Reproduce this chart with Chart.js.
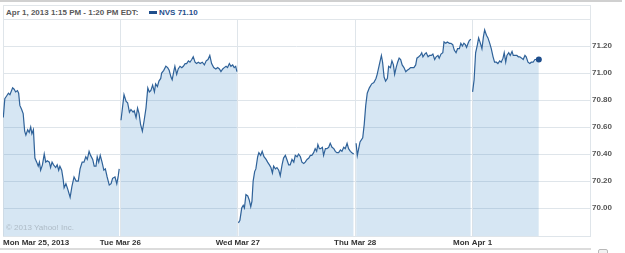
<!DOCTYPE html>
<html>
<head>
<meta charset="utf-8">
<script src="https://cdn.jsdelivr.net/npm/chart.js@4.4.1/dist/chart.umd.min.js"></script>
<style>
  html, body { margin: 0; padding: 0; background: #fff; }
  #wrap { position: relative; width: 625px; height: 253px; overflow: hidden; font-family: "Liberation Sans", Arial, sans-serif; }
  #c { position: absolute; left: 0; top: 0; }
  #topline { position: absolute; left: 0; top: 0; width: 622px; height: 2px; background: #d0d0d0; }
  #header { position: absolute; left: 3px; top: 5px; width: 588px; height: 15px; box-sizing: border-box; border: 1px solid #e1e6ea; background: #fff; }
  #htext { position: absolute; left: 2px; top: 1px; font-size: 8px; font-weight: bold; color: #595959; line-height: 12px; white-space: nowrap; }
  #swatch { position: absolute; left: 145px; top: 5px; width: 8px; height: 3px; background: #1f4e8c; }
  #legend { position: absolute; left: 155px; top: 1px; font-size: 8px; font-weight: bold; color: #1f4e8c; line-height: 12px; white-space: nowrap; }
  #copy { position: absolute; left: 6px; top: 223px; font-size: 8px; color: #aebbc6; white-space: nowrap; }
  #botline { position: absolute; left: 0; top: 248px; width: 591px; height: 2px; background: #dcdcdc; }
  #icon { position: absolute; left: 598px; top: 249px; width: 8px; height: 8px; border: 1px solid #b8b8b8; border-radius: 2px; background: #f2f2f2; }
</style>
</head>
<body>
<div id="wrap">
  <canvas id="c" width="625" height="253"></canvas>
  <div id="topline"></div>
  <div id="header">
    <span id="htext">Apr 1, 2013 1:15 PM - 1:20 PM EDT:</span>
    <span id="swatch"></span>
    <span id="legend"></span>
  </div>
  <div id="copy">© 2013 Yahoo! Inc.</div>
  <div id="botline"></div>
  <div id="icon"></div>
</div>
<script>
// ---- data ----
const symbol = 'NVS';
const dayLabels = ['Mon Mar 25, 2013', 'Tue Mar 26', 'Wed Mar 27', 'Thu Mar 28', 'Mon Apr 1'];
const minutesPerDay = 390; // 9:30 - 16:00
const yTicks = [70.00, 70.20, 70.40, 70.60, 70.80, 71.00, 71.20];
const yMin = 69.793, yMax = 71.40;

// minutes since open, prices
const day1Min = [1,6,12,18,23,32,37,42,48,52,56,62,67,72,76,82,87,92,96,101,106,112,117,121,125,131,137,142,147,154,158,163,168,175,180,185,189,195,200,203,209,215,223,229,236,243,250,256,263,269,275,280,286,291,298,303,309,313,318,323,329,335,340,346,353,359,364,372,378,383,386];
const day1Px  = [70.67,70.81,70.83,70.85,70.84,70.89,70.88,70.86,70.87,70.85,70.76,70.73,70.70,70.57,70.54,70.58,70.56,70.60,70.55,70.58,70.37,70.34,70.31,70.34,70.28,70.32,70.40,70.34,70.35,70.34,70.30,70.34,70.32,70.30,70.32,70.28,70.31,70.28,70.21,70.15,70.18,70.14,70.08,70.16,70.23,70.20,70.20,70.29,70.34,70.34,70.38,70.36,70.42,70.39,70.36,70.31,70.31,70.38,70.34,70.39,70.34,70.28,70.29,70.23,70.17,70.18,70.22,70.23,70.18,70.24,70.29];

const day2Min = [2,12,19,24,30,35,42,46,52,57,62,67,73,79,85,91,96,101,107,113,117,123,128,134,137,144,151,157,162,168,172,178,181,187,192,198,204,209,215,220,226,231,237,242,248,253,259,265,272,279,285,291,297,303,310,317,323,329,334,340,345,351,356,362,367,373,378,383,387];
const day2Px  = [70.65,70.84,70.79,70.78,70.71,70.73,70.71,70.72,70.67,70.74,70.70,70.62,70.57,70.65,70.74,70.89,70.86,70.87,70.91,70.86,70.92,70.90,70.94,70.96,71.00,71.02,71.05,71.04,71.02,70.97,70.95,71.02,71.05,70.99,71.03,71.05,71.04,71.05,71.07,71.07,71.09,71.08,71.10,71.12,71.08,71.07,71.08,71.07,71.08,71.06,71.09,71.10,71.13,71.07,71.04,71.03,71.04,71.03,71.01,71.03,71.04,71.05,71.04,71.07,71.05,71.06,71.04,71.05,71.01];

const day3Min = [2,7,13,18,22,27,33,38,43,47,51,56,60,66,70,76,81,87,94,99,105,110,115,119,125,130,136,141,147,152,158,163,169,174,180,186,191,197,202,208,213,219,224,230,236,241,246,252,257,262,266,271,275,281,285,291,296,302,307,313,319,324,329,335,341,346,352,357,363,368,374,379,385];
const day3Px  = [69.89,69.91,70.00,70.02,70.00,70.10,70.09,70.06,70.01,70.05,70.20,70.27,70.29,70.38,70.41,70.39,70.42,70.38,70.36,70.34,70.32,70.30,70.26,70.31,70.29,70.30,70.28,70.24,70.32,70.37,70.39,70.36,70.32,70.32,70.36,70.34,70.39,70.38,70.40,70.38,70.34,70.33,70.34,70.36,70.37,70.39,70.39,70.41,70.44,70.42,70.47,70.44,70.44,70.45,70.39,70.44,70.44,70.45,70.48,70.45,70.44,70.42,70.41,70.41,70.43,70.42,70.45,70.44,70.48,70.44,70.42,70.41,70.40];

const day4Min = [3,7,16,25,30,35,40,47,55,62,69,73,80,87,91,96,101,107,111,117,122,127,131,136,141,146,151,156,162,168,173,179,184,190,195,201,205,211,216,221,225,231,236,242,247,253,258,264,269,275,279,285,291,295,301,306,313,318,324,329,335,340,346,351,356,361,366,370,375,379,384];
const day4Px  = [70.48,70.39,70.49,70.52,70.62,70.76,70.85,70.89,70.92,70.93,70.96,70.99,71.06,71.13,71.08,70.97,70.94,70.96,71.05,71.04,71.09,71.06,70.99,71.04,71.08,71.11,71.10,71.06,71.04,71.01,71.02,71.03,71.04,71.04,71.04,71.06,71.11,71.12,71.13,71.15,71.12,71.14,71.15,71.12,71.13,71.13,71.14,71.10,71.12,71.13,71.11,71.14,71.15,71.23,71.22,71.23,71.22,71.22,71.21,71.17,71.15,71.18,71.18,71.22,71.20,71.22,71.21,71.19,71.22,71.24,71.25];

const day5Min = [0,5,10,16,20,26,31,36,40,46,51,57,62,68,73,79,84,90,95,101,105,110,114,120,125,131,135,141,147,152,157,163,168,174,178,184,190,195,201,207,212,220];
const day5Px  = [70.86,70.95,71.15,71.21,71.26,71.22,71.18,71.27,71.32,71.28,71.26,71.22,71.18,71.12,71.08,71.08,71.07,71.09,71.08,71.11,71.15,71.08,71.13,71.15,71.13,71.16,71.13,71.13,71.13,71.12,71.12,71.11,71.10,71.13,71.12,71.08,71.07,71.08,71.08,71.10,71.10,71.10];

const days = [[day1Min, day1Px], [day2Min, day2Px], [day3Min, day3Px], [day4Min, day4Px], [day5Min, day5Px]];

// ---- header legend text ----
const lastPrice = day5Px[day5Px.length - 1];
document.getElementById('legend').textContent = symbol + ' ' + lastPrice.toFixed(2);

// ---- chart ----
const lineColor = '#2f6299';
const datasets = days.map(([mins, px], d) => ({
  data: mins.map((m, i) => ({ x: d * minutesPerDay + m, y: px[i] })),
  borderColor: lineColor,
  borderWidth: 1.2,
  backgroundColor: 'rgba(70,140,200,0.22)',
  fill: 'start',
  tension: 0,
  pointRadius: (ctx) => (d === days.length - 1 && ctx.dataIndex === mins.length - 1) ? 3 : 0,
  pointBackgroundColor: '#1f4e8c',
  pointBorderColor: '#1f4e8c',
  pointBorderWidth: 0,
  pointHoverRadius: 0
}));

const gridColor = '#dfe5ea';
new Chart(document.getElementById('c'), {
  type: 'line',
  data: { datasets },
  options: {
    responsive: false,
    animation: false,
    devicePixelRatio: 1,
    layout: { padding: { left: 3, top: 19, right: 0, bottom: 0 } },
    plugins: { legend: { display: false }, tooltip: { enabled: false }, title: { display: false } },
    scales: {
      x: {
        type: 'linear',
        min: 0,
        max: minutesPerDay * dayLabels.length,
        afterBuildTicks: (s) => { s.ticks = dayLabels.map((_, i) => ({ value: i * minutesPerDay })).concat([{ value: minutesPerDay * dayLabels.length }]); },
        afterFit: (s) => { s.height = 17; },
        grid: { color: gridColor, lineWidth: 1, drawTicks: false },
        border: { display: true, color: gridColor },
        ticks: {
          autoSkip: false,
          maxRotation: 0,
          align: 'inner',
          padding: 2,
          color: '#333333',
          font: { family: '"Liberation Sans", Arial, sans-serif', size: 8, weight: 'bold' },
          callback: (v, i) => dayLabels[i] !== undefined ? dayLabels[i] : ''
        }
      },
      y: {
        position: 'right',
        min: yMin,
        max: yMax,
        afterBuildTicks: (s) => { s.ticks = yTicks.map(v => ({ value: v })).concat([{ value: yMax }]); },
        afterFit: (s) => { s.width = 35; },
        grid: { color: gridColor, lineWidth: 1, drawTicks: false },
        border: { display: true, color: gridColor },
        ticks: {
          padding: 2,
          color: '#555555',
          font: { family: '"Liberation Sans", Arial, sans-serif', size: 8, weight: 'bold' },
          callback: (v) => v > 71.3 ? '' : Number(v).toFixed(2)
        }
      }
    }
  }
});
</script>
</body>
</html>
